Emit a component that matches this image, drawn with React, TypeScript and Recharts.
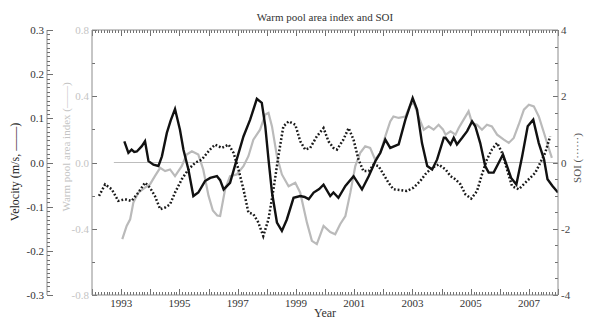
import { LineChart, Line, XAxis, YAxis, ReferenceLine } from 'recharts';

// velocity (m/s), black solid line
const velocity = [
  { t: 1993.11, v: 0.048 }, { t: 1993.25, v: 0.022 }, { t: 1993.36, v: 0.029 }, { t: 1993.45, v: 0.024 },
  { t: 1993.54, v: 0.025 }, { t: 1993.71, v: 0.037 }, { t: 1993.82, v: 0.048 }, { t: 1993.94, v: 0.003 },
  { t: 1994.11, v: -0.005 }, { t: 1994.28, v: -0.008 }, { t: 1994.4, v: 0.014 }, { t: 1994.57, v: 0.067 },
  { t: 1994.7, v: 0.095 }, { t: 1994.85, v: 0.121 }, { t: 1995.02, v: 0.074 }, { t: 1995.14, v: 0.029 },
  { t: 1995.31, v: -0.016 }, { t: 1995.48, v: -0.076 }, { t: 1995.65, v: -0.068 }, { t: 1995.88, v: -0.042 },
  { t: 1996.06, v: -0.035 }, { t: 1996.29, v: -0.031 }, { t: 1996.4, v: -0.04 }, { t: 1996.52, v: -0.061 },
  { t: 1996.74, v: -0.046 }, { t: 1996.97, v: 0.007 }, { t: 1997.2, v: 0.059 }, { t: 1997.43, v: 0.097 },
  { t: 1997.66, v: 0.144 }, { t: 1997.83, v: 0.135 }, { t: 1997.95, v: 0.082 }, { t: 1998.06, v: 0.007 },
  { t: 1998.18, v: -0.068 }, { t: 1998.35, v: -0.136 }, { t: 1998.52, v: -0.155 }, { t: 1998.69, v: -0.129 },
  { t: 1998.92, v: -0.08 }, { t: 1999.15, v: -0.076 }, { t: 1999.3, v: -0.078 }, { t: 1999.44, v: -0.083 },
  { t: 1999.61, v: -0.068 }, { t: 1999.8, v: -0.06 }, { t: 1999.95, v: -0.05 }, { t: 2000.18, v: -0.076 },
  { t: 2000.29, v: -0.068 }, { t: 2000.46, v: -0.08 }, { t: 2000.7, v: -0.053 }, { t: 2000.98, v: -0.031 },
  { t: 2001.27, v: -0.061 }, { t: 2001.5, v: -0.031 }, { t: 2001.73, v: 0.003 }, { t: 2001.9, v: 0.022 },
  { t: 2002.07, v: 0.052 }, { t: 2002.24, v: 0.033 }, { t: 2002.53, v: 0.041 }, { t: 2002.76, v: 0.097 },
  { t: 2003.01, v: 0.146 }, { t: 2003.16, v: 0.12 }, { t: 2003.33, v: 0.044 }, { t: 2003.51, v: -0.008 },
  { t: 2003.68, v: -0.016 }, { t: 2003.85, v: 0.007 }, { t: 2004.08, v: 0.056 }, { t: 2004.14, v: 0.056 },
  { t: 2004.31, v: 0.041 }, { t: 2004.42, v: 0.056 }, { t: 2004.53, v: 0.041 }, { t: 2004.71, v: 0.056 },
  { t: 2004.88, v: 0.071 }, { t: 2005.05, v: 0.093 }, { t: 2005.16, v: 0.082 }, { t: 2005.33, v: 0.044 },
  { t: 2005.5, v: -0.008 }, { t: 2005.62, v: -0.023 }, { t: 2005.79, v: -0.023 }, { t: 2005.96, v: -0.001 },
  { t: 2006.11, v: 0.018 }, { t: 2006.25, v: -0.008 }, { t: 2006.39, v: -0.035 }, { t: 2006.57, v: -0.05 },
  { t: 2006.77, v: 0.014 }, { t: 2006.96, v: 0.082 }, { t: 2007.15, v: 0.097 }, { t: 2007.34, v: 0.044 },
  { t: 2007.52, v: 0.007 }, { t: 2007.64, v: -0.038 }, { t: 2007.81, v: -0.053 }, { t: 2008.0, v: -0.068 },
];

// warm pool area index, gray line
const warmPool = [
  { t: 1993.04, w: -0.463 }, { t: 1993.19, w: -0.383 }, { t: 1993.31, w: -0.343 }, { t: 1993.42, w: -0.242 },
  { t: 1993.59, w: -0.182 }, { t: 1993.82, w: -0.152 }, { t: 1993.99, w: -0.132 }, { t: 1994.16, w: -0.082 },
  { t: 1994.34, w: -0.032 }, { t: 1994.51, w: -0.052 }, { t: 1994.68, w: -0.042 }, { t: 1994.85, w: -0.082 },
  { t: 1995.08, w: -0.022 }, { t: 1995.25, w: 0.048 }, { t: 1995.43, w: 0.068 }, { t: 1995.65, w: 0.048 },
  { t: 1995.82, w: -0.042 }, { t: 1996.0, w: -0.2 }, { t: 1996.15, w: -0.29 }, { t: 1996.3, w: -0.32 },
  { t: 1996.4, w: -0.323 }, { t: 1996.57, w: -0.162 }, { t: 1996.74, w: -0.082 }, { t: 1996.97, w: -0.072 },
  { t: 1997.2, w: -0.022 }, { t: 1997.37, w: 0.038 }, { t: 1997.54, w: 0.138 }, { t: 1997.77, w: 0.198 },
  { t: 1997.95, w: 0.289 }, { t: 1998.06, w: 0.299 }, { t: 1998.18, w: 0.218 }, { t: 1998.35, w: 0.038 },
  { t: 1998.52, w: -0.072 }, { t: 1998.75, w: -0.143 }, { t: 1998.98, w: -0.122 }, { t: 1999.15, w: -0.182 },
  { t: 1999.38, w: -0.363 }, { t: 1999.55, w: -0.473 }, { t: 1999.72, w: -0.493 }, { t: 1999.95, w: -0.383 },
  { t: 2000.18, w: -0.42 }, { t: 2000.35, w: -0.433 }, { t: 2000.52, w: -0.373 }, { t: 2000.7, w: -0.323 },
  { t: 2000.87, w: -0.182 }, { t: 2001.04, w: -0.022 }, { t: 2001.21, w: 0.058 }, { t: 2001.38, w: 0.098 },
  { t: 2001.55, w: 0.088 }, { t: 2001.72, w: 0.018 }, { t: 2001.9, w: 0.058 }, { t: 2002.07, w: 0.158 },
  { t: 2002.24, w: 0.248 }, { t: 2002.35, w: 0.278 }, { t: 2002.53, w: 0.269 }, { t: 2002.76, w: 0.278 },
  { t: 2002.93, w: 0.349 }, { t: 2003.05, w: 0.359 }, { t: 2003.21, w: 0.278 }, { t: 2003.39, w: 0.198 },
  { t: 2003.56, w: 0.218 }, { t: 2003.73, w: 0.198 }, { t: 2003.9, w: 0.228 }, { t: 2004.05, w: 0.2 },
  { t: 2004.14, w: 0.168 }, { t: 2004.31, w: 0.188 }, { t: 2004.48, w: 0.168 }, { t: 2004.59, w: 0.208 },
  { t: 2004.76, w: 0.259 }, { t: 2004.93, w: 0.309 }, { t: 2005.05, w: 0.239 }, { t: 2005.22, w: 0.228 },
  { t: 2005.39, w: 0.198 }, { t: 2005.56, w: 0.228 }, { t: 2005.73, w: 0.218 }, { t: 2005.91, w: 0.168 },
  { t: 2006.14, w: 0.138 }, { t: 2006.31, w: 0.118 }, { t: 2006.48, w: 0.148 }, { t: 2006.65, w: 0.228 },
  { t: 2006.83, w: 0.319 }, { t: 2007.0, w: 0.349 }, { t: 2007.17, w: 0.339 }, { t: 2007.34, w: 0.278 },
  { t: 2007.52, w: 0.178 }, { t: 2007.66, w: 0.098 }, { t: 2007.79, w: 0.028 },
];

// SOI, black dotted line
const soi = [
  { t: 1992.24, s: -1.01 }, { t: 1992.45, s: -0.66 }, { t: 1992.68, s: -0.81 }, { t: 1992.9, s: -1.16 },
  { t: 1993.13, s: -1.11 }, { t: 1993.36, s: -1.16 }, { t: 1993.59, s: -0.91 }, { t: 1993.82, s: -0.61 },
  { t: 1993.99, s: -0.76 }, { t: 1994.16, s: -1.01 }, { t: 1994.34, s: -1.41 }, { t: 1994.51, s: -1.36 },
  { t: 1994.68, s: -1.26 }, { t: 1994.85, s: -0.91 }, { t: 1995.08, s: -0.51 }, { t: 1995.31, s: -0.21 },
  { t: 1995.54, s: -0.01 }, { t: 1995.77, s: 0.09 }, { t: 1996.06, s: 0.4 }, { t: 1996.23, s: 0.54 },
  { t: 1996.46, s: 0.44 }, { t: 1996.69, s: 0.54 }, { t: 1996.86, s: 0.29 }, { t: 1997.03, s: -0.21 },
  { t: 1997.2, s: -0.81 }, { t: 1997.37, s: -1.51 }, { t: 1997.54, s: -1.56 }, { t: 1997.71, s: -1.81 },
  { t: 1997.88, s: -2.22 }, { t: 1998.06, s: -1.71 }, { t: 1998.23, s: -0.81 }, { t: 1998.4, s: 0.19 },
  { t: 1998.57, s: 1.09 }, { t: 1998.75, s: 1.24 }, { t: 1998.98, s: 1.14 }, { t: 1999.15, s: 0.64 },
  { t: 1999.32, s: 0.39 }, { t: 1999.49, s: 0.44 }, { t: 1999.72, s: 0.79 }, { t: 1999.95, s: 1.04 },
  { t: 2000.12, s: 0.64 }, { t: 2000.29, s: 0.44 }, { t: 2000.41, s: 0.39 }, { t: 2000.63, s: 0.69 },
  { t: 2000.81, s: 1.04 }, { t: 2000.98, s: 0.69 }, { t: 2001.15, s: 0.09 }, { t: 2001.32, s: -0.26 },
  { t: 2001.5, s: -0.26 }, { t: 2001.67, s: -0.06 }, { t: 2001.84, s: -0.11 }, { t: 2002.01, s: -0.36 },
  { t: 2002.18, s: -0.61 }, { t: 2002.35, s: -0.81 }, { t: 2002.58, s: -0.83 }, { t: 2002.81, s: -0.86 },
  { t: 2003.04, s: -0.76 }, { t: 2003.27, s: -0.56 }, { t: 2003.44, s: -0.36 }, { t: 2003.67, s: -0.16 },
  { t: 2003.9, s: -0.06 }, { t: 2004.14, s: -0.21 }, { t: 2004.31, s: -0.41 }, { t: 2004.48, s: -0.51 },
  { t: 2004.65, s: -0.66 }, { t: 2004.82, s: -0.96 }, { t: 2005.02, s: -1.09 }, { t: 2005.22, s: -0.86 },
  { t: 2005.39, s: -0.36 }, { t: 2005.56, s: 0.09 }, { t: 2005.73, s: 0.39 }, { t: 2005.91, s: 0.59 },
  { t: 2006.08, s: 0.29 }, { t: 2006.25, s: -0.21 }, { t: 2006.42, s: -0.71 }, { t: 2006.65, s: -0.81 },
  { t: 2006.82, s: -0.66 }, { t: 2007.05, s: -0.46 }, { t: 2007.22, s: -0.31 }, { t: 2007.39, s: -0.01 },
  { t: 2007.56, s: 0.29 }, { t: 2007.73, s: 0.79 },
];

const yearLabels = [1993, 1995, 1997, 1999, 2001, 2003, 2005, 2007];
const velocityLabels = [-0.3, -0.2, -0.1, 0, 0.1, 0.2, 0.3];
const warmPoolLabels = [-0.8, -0.4, 0, 0.4, 0.8];
const soiLabels = [-4, -2, 0, 2, 4];

const AXIS = '#8c8c8c';
const TICK = '#707070';
const FONT = '"Liberation Serif", "DejaVu Serif", serif';

// tick positions incl. minor ticks
const range = (lo: number, hi: number, step: number) =>
  Array.from({ length: Math.round((hi - lo) / step) + 1 }, (_, i) => +(lo + i * step).toFixed(4));
const isIn = (list: number[], v: number) => list.some((l) => Math.abs(l - v) < 1e-6);
const onGrid = (v: number, step: number) => Math.abs(v / step - Math.round(v / step)) < 1e-6;
// snap to pixel centre so 1px tick marks stay crisp
const px = (n: number) => Math.round(n) + 0.5;

const xTicks = range(1992, 2008, 0.1);
const velTicks = range(-0.3, 0.3, 0.01);
const wpTicks = range(-0.8, 0.8, 0.2);
const soiTicks = range(-4, 4, 0.5);

// axis labels (marks that point into the plot are drawn with ReferenceLine shapes below)
const renderYearLabel = (props: any) => {
  const { x, y, payload, index } = props;
  return (
    <text key={`b${index}`} x={x} y={y + 12} textAnchor="middle" fontSize={11} fontFamily={FONT} fill="#333">
      {payload.value}
    </text>
  );
};

const renderVelTick = (props: any) => {
  const { x, y, payload, index } = props;
  const v = payload.value;
  const major = isIn(velocityLabels, v);
  const cy = px(y);
  return (
    <g key={`v${index}`}>
      <line x1={x} x2={x + (major ? 6 : 3)} y1={cy} y2={cy} stroke={TICK} strokeWidth={1} shapeRendering="crispEdges" />
      {major && (
        <text x={x - 3} y={y + 4} textAnchor="end" fontSize={11} fontFamily={FONT} fill="#333">{v.toFixed(1)}</text>
      )}
    </g>
  );
};

const renderWpLabel = (props: any) => {
  const { x, y, payload, index } = props;
  return (
    <text key={`w${index}`} x={x - 3} y={y + 4} textAnchor="end" fontSize={11} fontFamily={FONT} fill="#c4c4c4">
      {payload.value.toFixed(1)}
    </text>
  );
};

const renderSoiLabel = (props: any) => {
  const { x, y, payload, index } = props;
  return (
    <text key={`s${index}`} x={x + 3} y={y + 4} textAnchor="start" fontSize={11} fontFamily={FONT} fill="#444">
      {payload.value}
    </text>
  );
};

// short inward marks at both ends of a vertical reference line (bottom + top frame)
const xMark = (len: number) => (p: any) => {
  const x = px(p.x1);
  const top = Math.min(p.y1, p.y2);
  const bottom = Math.max(p.y1, p.y2);
  return (
    <g>
      <line x1={x} x2={x} y1={bottom} y2={bottom - len} stroke={TICK} strokeWidth={1} shapeRendering="crispEdges" />
      <line x1={x} x2={x} y1={top} y2={top + len} stroke={TICK} strokeWidth={1} shapeRendering="crispEdges" />
    </g>
  );
};

// short inward mark at the left or right end of a horizontal reference line
const yMark = (len: number, side: 'left' | 'right') => (p: any) => {
  const y = px(p.y1);
  const x0 = side === 'left' ? Math.min(p.x1, p.x2) : Math.max(p.x1, p.x2);
  const x1 = side === 'left' ? x0 + len : x0 - len;
  return <line x1={x0} x2={x1} y1={y} y2={y} stroke={TICK} strokeWidth={1} shapeRendering="crispEdges" />;
};

const rotated = (left: number, top: number, color: string, size: number) => ({
  position: 'absolute' as const,
  left,
  top,
  transform: 'translate(-50%, -50%) rotate(-90deg)',
  whiteSpace: 'nowrap' as const,
  fontFamily: FONT,
  fontSize: size,
  color,
});

export default function App() {
  return (
    <div style={{ position: 'absolute', left: 0, top: 0, width: 590, height: 321, background: '#fff' }}>
      <LineChart width={590} height={321} margin={{ top: 0, right: 0, bottom: 0, left: 5 }}>
        <XAxis
          xAxisId="bottom"
          dataKey="t"
          type="number"
          domain={[1992, 2008]}
          allowDataOverflow
          ticks={yearLabels}
          interval={0}
          tick={renderYearLabel}
          tickSize={0}
          tickMargin={0}
          tickLine={false}
          axisLine={{ stroke: AXIS }}
          height={26}
        />
        <XAxis
          xAxisId="top"
          orientation="top"
          type="number"
          domain={[1992, 2008]}
          allowDataOverflow
          tick={false}
          tickLine={false}
          axisLine={{ stroke: AXIS }}
          height={30}
        />
        {/* inner left axis: warm pool; outer left axis: velocity */}
        <YAxis
          yAxisId="pool"
          orientation="left"
          type="number"
          domain={[-0.8, 0.8]}
          allowDataOverflow
          ticks={warmPoolLabels}
          interval={0}
          tick={renderWpLabel}
          tickSize={0}
          tickMargin={0}
          tickLine={false}
          axisLine={{ stroke: AXIS }}
          width={45}
        />
        <YAxis
          yAxisId="vel"
          orientation="left"
          type="number"
          domain={[-0.3, 0.3]}
          allowDataOverflow
          ticks={velTicks}
          interval={0}
          tick={renderVelTick}
          tickSize={0}
          tickMargin={0}
          tickLine={false}
          axisLine={{ stroke: AXIS }}
          width={42}
        />
        <YAxis
          yAxisId="soi"
          orientation="right"
          type="number"
          domain={[-4, 4]}
          allowDataOverflow
          ticks={soiLabels}
          interval={0}
          tick={renderSoiLabel}
          tickSize={0}
          tickMargin={0}
          tickLine={false}
          axisLine={{ stroke: AXIS }}
          width={32}
        />
        {xTicks.map((t) => (
          <ReferenceLine
            key={`xt${t}`}
            xAxisId="bottom"
            yAxisId="vel"
            x={t}
            shape={xMark(onGrid(t, 1) ? 6 : 3)}
          />
        ))}
        {wpTicks.map((v) => (
          <ReferenceLine
            key={`wt${v}`}
            xAxisId="bottom"
            yAxisId="pool"
            y={v}
            shape={yMark(isIn(warmPoolLabels, v) ? 5 : 3, 'left')}
          />
        ))}
        {soiTicks.map((v) => (
          <ReferenceLine
            key={`st${v}`}
            xAxisId="bottom"
            yAxisId="soi"
            y={v}
            shape={yMark(isIn(soiLabels, v) ? 5 : 3, 'right')}
          />
        ))}
        <ReferenceLine
          xAxisId="bottom"
          yAxisId="vel"
          segment={[{ x: 1992.75, y: 0 }, { x: 2008, y: 0 }]}
          stroke="#bdbdbd"
          strokeWidth={1}
        />
        <Line
          xAxisId="bottom"
          yAxisId="pool"
          data={warmPool}
          dataKey="w"
          type="linear"
          stroke="#bababa"
          strokeWidth={2.2}
          dot={false}
          isAnimationActive={false}
        />
        <Line
          xAxisId="bottom"
          yAxisId="soi"
          data={soi}
          dataKey="s"
          type="linear"
          stroke="#1a1a1a"
          strokeWidth={2.5}
          strokeDasharray="1.8 2"
          dot={false}
          isAnimationActive={false}
        />
        <Line
          xAxisId="bottom"
          yAxisId="vel"
          data={velocity}
          dataKey="v"
          type="linear"
          stroke="#111"
          strokeWidth={2.4}
          dot={false}
          isAnimationActive={false}
        />
      </LineChart>
      <div style={{ position: 'absolute', left: 92, top: 10, width: 466, textAlign: 'center', fontFamily: FONT, fontSize: 11, color: '#333', lineHeight: '14px' }}>
        Warm pool area index and SOI
      </div>
      <div style={{ position: 'absolute', left: 92, top: 306, width: 466, textAlign: 'center', fontFamily: FONT, fontSize: 12, color: '#333', lineHeight: '14px' }}>
        Year
      </div>
      <div style={rotated(15, 172, '#222', 12)}>Velocity (m/s, ——)</div>
      <div style={rotated(66, 147, '#c4c4c4', 11)}>Warm pool area index (——)</div>
      <div style={rotated(577, 158, '#555', 11)}>SOI (······)</div>
    </div>
  );
}
